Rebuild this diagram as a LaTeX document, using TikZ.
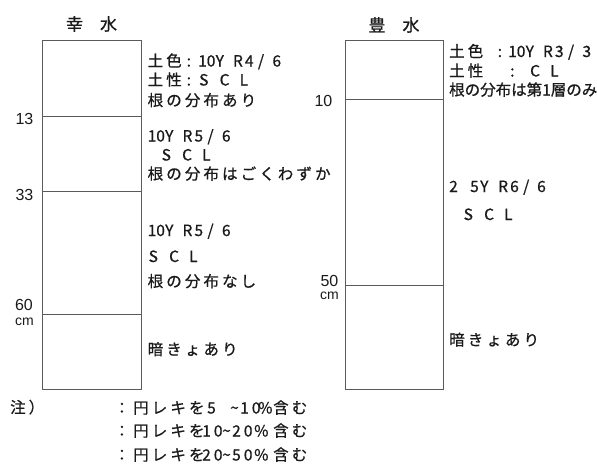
\documentclass[tikz,border=0pt]{standalone}
\usepackage{fontspec}
\newfontfamily\jp{Noto Sans CJK JP}[FakeBold=0.8]
\newfontfamily\jpw{Noto Sans CJK JP}[LetterSpace=20,FakeBold=0.8]
\newfontfamily\num{Liberation Sans}
\definecolor{ink}{HTML}{1A1A1A}
\definecolor{rule}{HTML}{5A5A5A}
\newcommand\bx[2]{\makebox[#1pt][l]{#2}}
\newcommand\cj[1]{{\jpw #1}}
\newcommand\mun[3]{\bx{17.5}{#1}\bx{17.3}{Y}\bx{12}{R}\bx{13}{#2}\bx{14.5}{/}#3}
\newcommand\scl{\bx{20.5}{S}\bx{20}{C}L}
\tikzset{
  lbl/.style={anchor=base west, inner sep=0pt, text=ink, font=\jp\fontsize{15.5}{18}\selectfont},
  lblw/.style={anchor=base west, inner sep=0pt, text=ink, font=\jpw\fontsize{15.5}{18}\selectfont},
  ttl/.style={inner sep=0pt, text=ink, font=\jp\fontsize{17}{19}\selectfont},
  dep/.style={anchor=east, inner sep=0pt, text=ink, font=\num\fontsize{16}{18}\selectfont},
  depc/.style={anchor=east, inner sep=0pt, text=ink, font=\num\fontsize{14}{15}\selectfont},
  box/.style={draw=rule, line width=0.9pt},
}
\begin{document}
\begin{tikzpicture}[x=1pt,y=1pt]
\useasboundingbox (0,0) rectangle (597,-471);
% titles
\node[ttl] (t1) at (91.5,-24) {幸　水};
\node[ttl] (t2) at (394,-25) {豊　水};
% left column
\draw[box] (42.3,-40.7) rectangle (141,-389.3);
\coordinate (l13a) at (42.3,-116.3); \coordinate (l13b) at (141,-116.3);
\coordinate (l33a) at (42.3,-191.5); \coordinate (l33b) at (141,-191.5);
\coordinate (l60a) at (42.3,-314.3); \coordinate (l60b) at (141,-314.3);
\draw[box] (l13a) -- (l13b);
\draw[box] (l33a) -- (l33b);
\draw[box] (l60a) -- (l60b);
% right column
\draw[box] (345,-40.7) rectangle (443.3,-389.3);
\coordinate (r10a) at (345,-99.7); \coordinate (r10b) at (443.3,-99.7);
\coordinate (r50a) at (345,-285); \coordinate (r50b) at (443.3,-285);
\draw[box] (r10a) -- (r10b);
\draw[box] (r50a) -- (r50b);
% depth labels
\node[dep] (d13) at (33.5,-118.7) {13};
\node[dep] (d33) at (33.5,-195) {33};
\node[dep] (d60) at (33,-305) {60};
\node[depc] (d60c) at (34,-321.5) {cm};
\node[dep] (d10) at (332.5,-101) {10};
\node[dep] (d50) at (338.5,-280.5) {50};
\node[depc] (d50c) at (339,-296) {cm};
% left texts
\node[lbl] (a1) at (147.5,-66.5) {\bx{39}{\cj{土色}}\bx{11.5}{:}\mun{10}{4}{6}};
\node[lbl] (a2) at (147.5,-85.5) {\bx{39}{\cj{土性}}\bx{12.5}{:}\scl};
\node[lblw] (a3) at (147.5,-106) {根の分布あり};
\node[lbl] (b1) at (147.5,-141.5) {\mun{10}{5}{6}};
\node[lbl] (b2) at (161.5,-160.5) {\scl};
\node[lblw] (b3) at (147.5,-179.5) {根の分布はごくわずか};
\node[lbl] (c1) at (147.5,-236) {\mun{10}{5}{6}};
\node[lbl] (c2) at (148.5,-262) {\scl};
\node[lblw] (c3) at (147.5,-287) {根の分布なし};
\node[lblw] (e1) at (147.5,-355) {暗きょあり};
% right texts
\node[lbl] (f1) at (449,-57) {\bx{48.5}{\cj{土色}}\bx{10.5}{:}\mun{10}{3}{3}};
\node[lbl] (f2) at (449,-76.5) {\bx{61}{\cj{土性}}\bx{20}{:}\bx{20}{C}L};
\node[lbl] (f3) at (449,-95.5) {根の分布は第1層のみ};
\node[lbl] (g1) at (449,-192) {\bx{21}{2}\bx{10}{5}\bx{18}{Y}\bx{12}{R}\bx{13}{6}\bx{14}{/}6};
\node[lbl] (g2) at (463.5,-220) {\scl};
\node[lblw] (h1) at (449,-345.5) {暗きょあり};
% footnote
\node[lblw] (n0) at (10,-413) {注）};
\node[lbl] (n1) at (114,-413.5) {\bx{19}{：}\bx{74}{\cj{円レキを}}\bx{23}{5}\bx{10}{\textasciitilde}\bx{18}{\cj{10}}\bx{15}{\%}\cj{含む}};
\node[lbl] (n2) at (114,-436.5) {\bx{19}{：}\bx{69}{\cj{円レキを}}\bx{20}{\cj{10}}\bx{10}{\textasciitilde}\bx{22}{\cj{20}}\bx{19}{\%}\cj{含む}};
\node[lbl] (n3) at (114,-460.5) {\bx{19}{：}\bx{69}{\cj{円レキを}}\bx{20}{\cj{20}}\bx{10}{\textasciitilde}\bx{22}{\cj{50}}\bx{19}{\%}\cj{含む}};
\end{tikzpicture}
\end{document}
